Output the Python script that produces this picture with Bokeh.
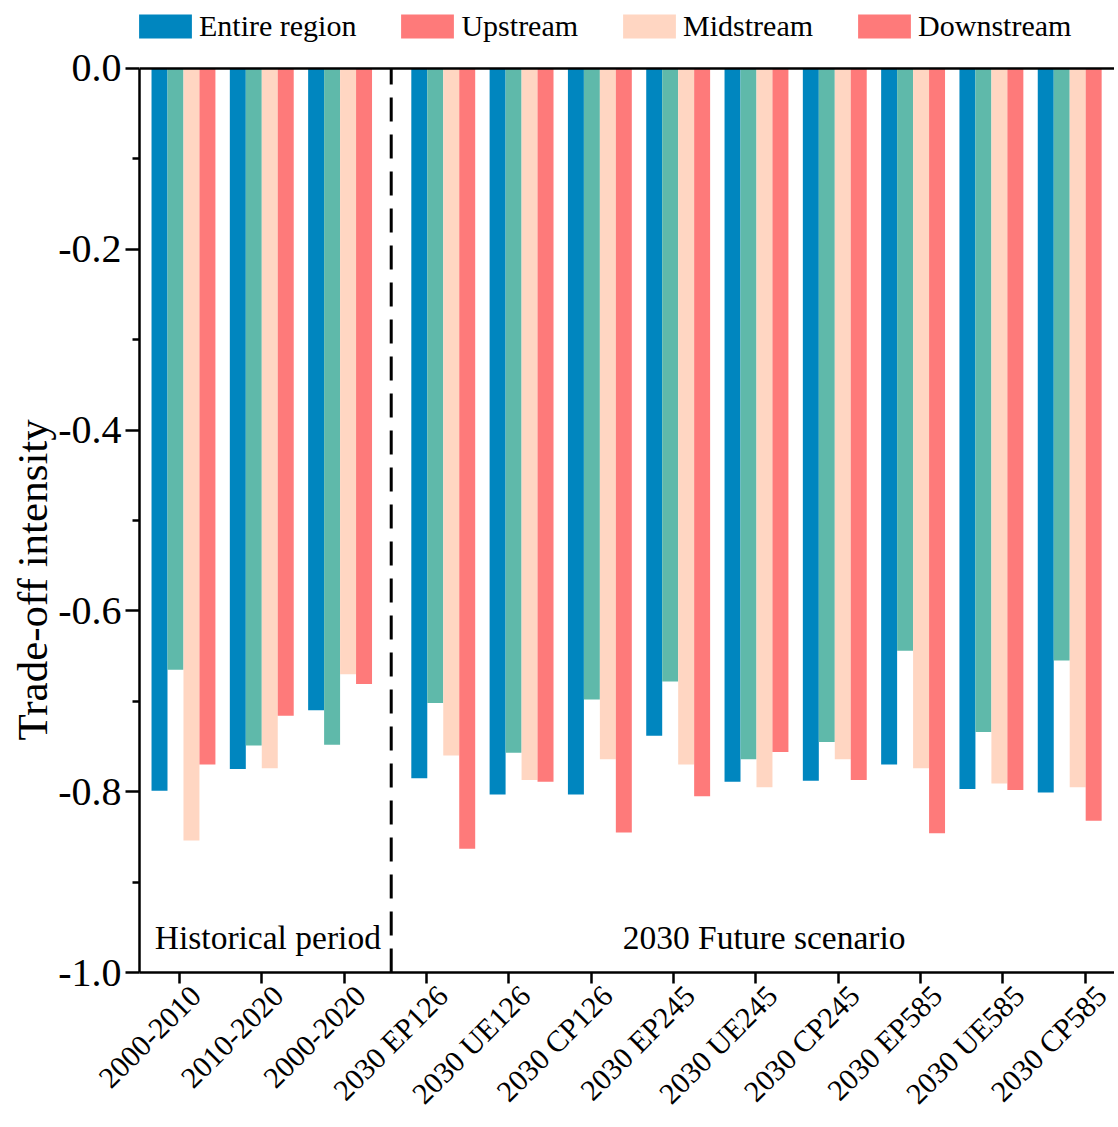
import math
from bokeh.plotting import figure
from bokeh.models import (Range1d, FixedTicker, PrintfTickFormatter, Legend, LegendItem,
                          Span, Label, ColumnDataSource, Title, LinearAxis)
from bokeh.embed import file_html
from bokeh.resources import INLINE

# ---------------- data ----------------
categories = ["2000-2010", "2010-2020", "2000-2020", "2030 EP126", "2030 UE126", "2030 CP126",
              "2030 EP245", "2030 UE245", "2030 CP245", "2030 EP585", "2030 UE585", "2030 CP585"]
series_names = ["Entire region", "Upstream", "Midstream", "Downstream"]
entire_region = [-0.799, -0.775, -0.710, -0.785, -0.803, -0.803, -0.738, -0.789, -0.788, -0.770, -0.797, -0.801]
upstream      = [-0.665, -0.749, -0.748, -0.702, -0.757, -0.698, -0.678, -0.764, -0.745, -0.644, -0.734, -0.655]
midstream     = [-0.854, -0.774, -0.670, -0.760, -0.787, -0.764, -0.770, -0.795, -0.764, -0.774, -0.791, -0.795]
downstream    = [-0.770, -0.716, -0.681, -0.863, -0.789, -0.845, -0.805, -0.756, -0.787, -0.846, -0.798, -0.832]
y_ticks = [-1.0, -0.8, -0.6, -0.4, -0.2, 0.0]
y_minor = [-0.9, -0.7, -0.5, -0.3, -0.1]
y_label = "Trade-off intensity"
period_labels = ["Historical period", "2030 Future scenario"]
n_hist = 3

# ---------------- style / layout ----------------
FONT = "Liberation Serif"
colors = ["#0086BF", "#5FB9AA", "#FFD6C2", "#FE7A7A"]
legend_colors = ["#0086BF", "#FE7A7A", "#FFD6C2", "#FE7A7A"]
pitch = 0.951
bar_w = 0.194
hist_center0 = 0.048
fut_center0 = 3.203
divider_x = 2.571
y_lo, y_hi = -1.0, 0.0
y_headroom = 0.0752   # room above 0 for the legend
x_lo, x_hi = -0.486, 11.355
label_shift = 0.194   # tick labels sit a little right of their ticks

group_x = []
for i in range(len(categories)):
    if i < n_hist:
        group_x.append(hist_center0 + pitch * i)
    else:
        group_x.append(fut_center0 + pitch * (i - n_hist))

p = figure(width=1114, height=1125, x_range=Range1d(x_lo, x_hi),
           y_range=Range1d(y_lo, y_hi + y_headroom),
           output_backend="svg", toolbar_location=None,
           min_border_left=139, min_border_right=0, min_border_top=0, min_border_bottom=153)
p.extra_x_ranges = {"lab": Range1d(x_lo - label_shift, x_hi - label_shift)}
p.outline_line_color = None
p.xgrid.grid_line_color = None
p.ygrid.grid_line_color = None
p.background_fill_color = "white"

all_series = [entire_region, upstream, midstream, downstream]
for j, vals in enumerate(all_series):
    xs = [g + (j - 1.5) * bar_w for g in group_x]
    src = ColumnDataSource(dict(x=xs, top=[0.0] * len(vals), bottom=vals))
    p.vbar(x="x", top="top", bottom="bottom", width=bar_w, source=src,
           fill_color=colors[j], line_color=None)

# legend proxies (the original legend uses its own swatch colours)
legend_items = []
for j, name in enumerate(series_names):
    xs = [g + (j - 1.5) * bar_w for g in group_x]
    src = ColumnDataSource(dict(x=xs, top=[0.0] * len(xs), bottom=all_series[j]))
    proxy = p.vbar(x="x", top="top", bottom="bottom", width=0, source=src,
                   fill_color=legend_colors[j], line_color=None)
    legend_items.append(LegendItem(label=name, renderers=[proxy]))

legend = Legend(items=legend_items, orientation="horizontal", location=(-7, 929),
                label_text_font=FONT, label_text_font_size="30px", label_text_color="black",
                glyph_width=66, glyph_height=30, label_standoff=1, spacing=38,
                padding=0, margin=0, border_line_color=None, background_fill_alpha=0)
p.add_layout(legend, "center")

# divider and frame top
p.segment(x0=[divider_x], y0=[y_lo], x1=[divider_x], y1=[y_hi], line_color="black",
          line_width=3, line_dash="24 13")
p.add_layout(Span(location=y_hi, dimension="width", line_color="black", line_width=2.5))

p.add_layout(Label(x=-0.30, y=-0.961, text=period_labels[0], text_font=FONT,
                   text_font_size="33.5px", text_color="black",
                   text_baseline="middle", text_align="left"))
p.add_layout(Label(x=7.10, y=-0.961, text=period_labels[1], text_font=FONT,
                   text_font_size="33.5px", text_color="black",
                   text_baseline="middle", text_align="center"))

# x axis: tick marks on the main axis (drawn as minor ticks, so no empty labels),
# category labels on a second axis shifted slightly right
xa = p.xaxis[0]
xa.ticker = FixedTicker(ticks=[], minor_ticks=list(range(len(categories))))
xa.axis_line_width = 2.5
xa.axis_line_color = "black"
xa.minor_tick_line_width = 2.5
xa.minor_tick_line_color = "black"
xa.minor_tick_out = 11
xa.minor_tick_in = 0
xa.major_tick_line_color = None
xa.major_label_standoff = 0

xb = LinearAxis(x_range_name="lab", ticker=FixedTicker(ticks=list(range(len(categories)))))
xb.major_label_overrides = {i: c for i, c in enumerate(categories)}
xb.major_label_orientation = math.pi / 4
xb.major_label_text_font = FONT
xb.major_label_text_font_size = "30px"
xb.major_label_text_color = "black"
xb.axis_line_color = None
xb.major_tick_line_color = None
xb.minor_tick_line_color = None
xb.major_tick_out = 0
xb.major_tick_in = 0
xb.major_label_standoff = 7
p.add_layout(xb, "below")

ya = p.yaxis[0]
ya.bounds = (y_lo, y_hi)
ya.ticker = FixedTicker(ticks=y_ticks, minor_ticks=y_minor)
ya.formatter = PrintfTickFormatter(format="%.1f")
ya.major_label_text_font = FONT
ya.major_label_text_font_size = "40px"
ya.major_label_text_color = "black"
ya.axis_line_width = 2.5
ya.axis_line_color = "black"
ya.major_tick_line_width = 2.5
ya.major_tick_out = 14
ya.major_tick_in = 0
ya.minor_tick_line_width = 2.5
ya.minor_tick_out = 7
ya.minor_tick_in = 0
ya.major_label_standoff = 4

p.add_layout(Title(text=y_label, text_font=FONT, text_font_size="43px",
                   text_font_style="normal", text_color="black", align="left",
                   offset=232, standoff=0), "left")

open("out.html", "w").write(file_html(p, INLINE))
